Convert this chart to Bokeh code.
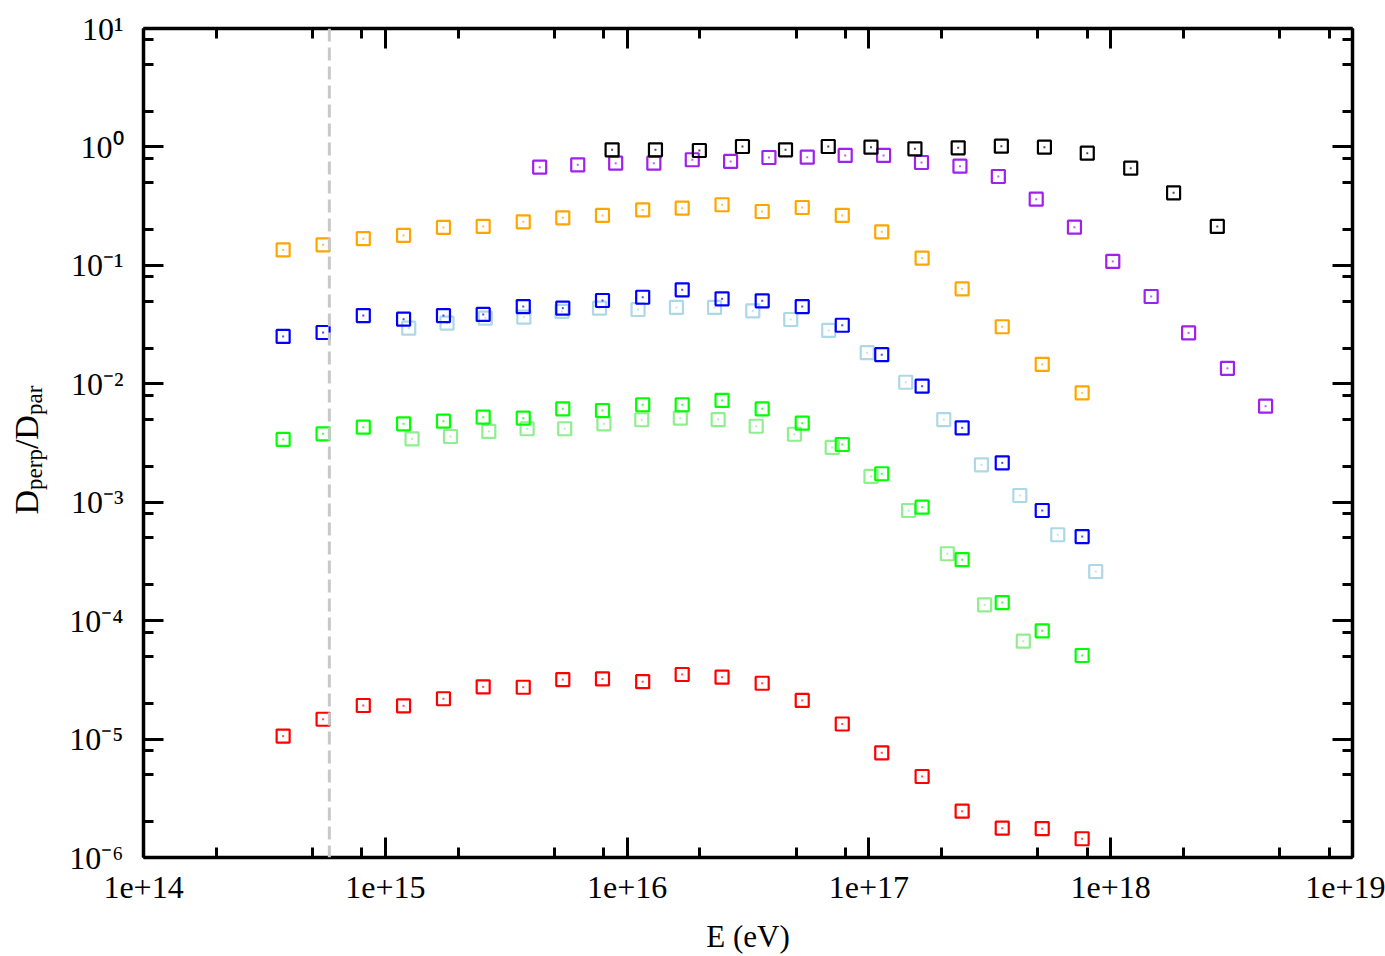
import numpy as np
from bokeh.plotting import figure
from bokeh.layouts import row
from bokeh.models import FixedTicker, LogAxis, CustomJSTickFormatter, Span, Range1d
from bokeh.core.properties import value
from bokeh.embed import file_html
from bokeh.resources import INLINE

# ---------------- data ----------------
E_main = [3.78e14, 5.53e14, 8.11e14, 1.19e15, 1.74e15, 2.54e15, 3.72e15, 5.42e15,
          7.91e15, 1.16e16, 1.69e16, 2.47e16, 3.62e16, 5.30e16, 7.76e16, 1.13e17,
          1.66e17, 2.43e17, 3.56e17, 5.21e17, 7.62e17]
red = [1.06e-5, 1.47e-5, 1.92e-5, 1.91e-5, 2.19e-5, 2.76e-5, 2.74e-5, 3.18e-5,
       3.22e-5, 3.05e-5, 3.51e-5, 3.33e-5, 2.96e-5, 2.12e-5, 1.34e-5, 7.66e-6,
       4.83e-6, 2.46e-6, 1.77e-6, 1.75e-6, 1.44e-6]
orange = [0.135, 0.149, 0.168, 0.179, 0.209, 0.213, 0.233, 0.252, 0.264, 0.294, 0.304,
          0.325, 0.285, 0.308, 0.264, 0.192, 0.115, 0.0634, 0.0303, 0.0146, 0.00839]
blue = [0.0251, 0.0271, 0.0377, 0.0351, 0.0377, 0.0385, 0.0449, 0.0435, 0.0505, 0.0538,
        0.0622, 0.0522, 0.0502, 0.0449, 0.0312, 0.0176, 0.00954, 0.00425, 0.00215,
        0.000851, 0.000513]
green = [0.00339, 0.00378, 0.00430, 0.00459, 0.00483, 0.00522, 0.00512, 0.00615, 0.00595,
         0.00665, 0.00665, 0.00723, 0.00615, 0.00465, 0.00307, 0.00174, 0.000908,
         0.000327, 0.000142, 8.21e-5, 5.08e-5]

E_lightblue = [1.25e15, 1.80e15, 2.59e15, 3.74e15, 5.38e15, 7.69e15, 1.11e16, 1.60e16,
               2.30e16, 3.31e16, 4.75e16, 6.82e16, 9.84e16, 1.42e17, 2.04e17, 2.92e17,
               4.21e17, 6.04e17, 8.67e17]
lightblue = [0.0295, 0.0325, 0.0358, 0.0365, 0.0408, 0.0435, 0.0424, 0.0441, 0.0441,
             0.0413, 0.0349, 0.0282, 0.0183, 0.0103, 0.00499, 0.00207, 0.00114,
             0.000531, 0.000260]

E_lightgreen = [1.29e15, 1.86e15, 2.68e15, 3.86e15, 5.52e15, 8.02e15, 1.15e16, 1.66e16,
                2.38e16, 3.42e16, 4.92e16, 7.05e16, 1.02e17, 1.46e17, 2.11e17, 3.01e17,
                4.35e17]
lightgreen = [0.00343, 0.00359, 0.00396, 0.00417, 0.00417, 0.00459, 0.00497, 0.00512,
              0.00499, 0.00438, 0.00375, 0.00290, 0.00165, 0.000851, 0.000367,
              0.000136, 6.71e-5]

E_purple = [4.35e15, 6.25e15, 8.97e15, 1.29e16, 1.86e16, 2.68e16, 3.86e16, 5.56e16,
            7.98e16, 1.15e17, 1.65e17, 2.38e17, 3.43e17, 4.92e17, 7.08e17, 1.02e18,
            1.47e18, 2.10e18, 3.04e18, 4.37e18]
purple = [0.674, 0.706, 0.729, 0.729, 0.779, 0.754, 0.814, 0.819, 0.847, 0.847, 0.739,
          0.688, 0.563, 0.362, 0.210, 0.108, 0.0546, 0.0269, 0.0135, 0.00647]

E_black = [8.67e15, 1.31e16, 1.99e16, 3.00e16, 4.52e16, 6.79e16, 1.02e17, 1.55e17,
           2.34e17, 3.53e17, 5.32e17, 8.00e17, 1.21e18, 1.82e18, 2.76e18]
black = [0.946, 0.946, 0.933, 1.008, 0.946, 1.008, 0.995, 0.964, 0.983, 1.014, 0.995,
         0.885, 0.661, 0.410, 0.213]

E_threshold = 5.87e14

x_decades = [14, 15, 16, 17, 18, 19]
y_decades = [-6, -5, -4, -3, -2, -1, 0, 1]
minor_mult = [2, 5, 8]

# y-axis title pieces: D_perp / D_par
ylabel_parts = ["D", "perp", "/D", "par"]
ylabel_is_sub = [False, True, False, True]

# ---------------- layout constants ----------------
W, H = 1385, 956
LW = 60                      # width of the strip holding the y title
L, R, T, B = 143, 33, 28, 99  # frame borders measured on the full page
FONT = "Liberation Serif"

# ---------------- main figure ----------------
p = figure(width=W - LW, height=H, x_axis_type="log", y_axis_type="log",
           x_range=(1e14, 1e19), y_range=(1e-6, 1e1),
           output_backend="svg", toolbar_location=None,
           min_border_left=L - LW, min_border_right=R, min_border_top=T,
           min_border_bottom=B)
p.xgrid.visible = False
p.ygrid.visible = False
p.outline_line_color = None
p.background_fill_color = "white"
p.border_fill_color = "white"

x_ticks = [10.0 ** d for d in x_decades]
x_minor = [m * 10.0 ** d for d in x_decades[:-1] for m in minor_mult]
y_ticks = [10.0 ** d for d in y_decades]
y_minor = [m * 10.0 ** d for d in y_decades[:-1] for m in minor_mult]

x_fmt = CustomJSTickFormatter(code="return '1e+' + Math.round(Math.log10(tick));")
y_fmt = CustomJSTickFormatter(code="""
const sup = {'-':'\u207b','0':'\u2070','1':'\u00b9','2':'\u00b2','3':'\u00b3','4':'\u2074',
             '5':'\u2075','6':'\u2076','7':'\u2077','8':'\u2078','9':'\u2079'};
const e = String(Math.round(Math.log10(tick)));
return '10' + e.split('').map(c => sup[c]).join('');
""")


def style_axis(ax, ticks, minor, show_labels, fmt=None, size="30px", standoff=14):
    ax.ticker = FixedTicker(ticks=ticks, minor_ticks=minor)
    ax.axis_line_width = 3.5
    ax.axis_line_color = "black"
    ax.major_tick_line_width = 3
    ax.minor_tick_line_width = 3
    ax.major_tick_line_color = "black"
    ax.minor_tick_line_color = "black"
    ax.major_tick_in = 20
    ax.major_tick_out = 0
    ax.minor_tick_in = 10
    ax.minor_tick_out = 0
    if show_labels:
        ax.formatter = fmt
        ax.major_label_text_font = FONT
        ax.major_label_text_font_size = size
        ax.major_label_text_color = "black"
        ax.major_label_standoff = standoff
    else:
        ax.major_label_text_font_size = "1px"
        ax.major_label_text_color = None
        ax.major_label_standoff = 0


style_axis(p.xaxis[0], x_ticks, x_minor, True, x_fmt, "32px", 19)
style_axis(p.yaxis[0], y_ticks, y_minor, True, y_fmt, "32px", 20)
p.xaxis[0].axis_label = "E (eV)"
p.xaxis[0].axis_label_text_font = FONT
p.xaxis[0].axis_label_text_font_size = "31px"
p.xaxis[0].axis_label_text_font_style = "normal"
p.xaxis[0].axis_label_text_color = "black"
p.xaxis[0].axis_label_standoff = 18

top = LogAxis()
style_axis(top, x_ticks, x_minor, False)
p.add_layout(top, "above")
right = LogAxis()
style_axis(right, y_ticks, y_minor, False)
p.add_layout(right, "right")

# dashed vertical reference line
p.add_layout(Span(location=E_threshold, dimension="height", line_color="#c8c8c8",
                  line_width=3, line_dash="13 6"))

series = [
    (E_lightblue, lightblue, "#add8e6"),
    (E_lightgreen, lightgreen, "#90ee90"),
    (E_main, red, "#ff0000"),
    (E_main, orange, "#ffa500"),
    (E_main, blue, "#0000ff"),
    (E_main, green, "#00ff00"),
    (E_purple, purple, "#a020f0"),
    (E_black, black, "#000000"),
]
for xs, ys, c in series:
    p.scatter(xs, ys, marker="square", size=13, fill_color=None, line_color=c,
              line_width=2.2)
    p.scatter(xs, ys, marker="square", size=2, fill_color=c, line_color=None,
              fill_alpha=0.7)

# ---------------- strip with the rotated y title ----------------
# its frame is aligned with the main frame (page y 28..857), so map page y directly
lab = figure(width=LW, height=H, x_range=Range1d(0, LW), y_range=Range1d(H - 857, H - 28),
             output_backend="svg", toolbar_location=None,
             x_axis_location=None, y_axis_location=None,
             min_border=0, min_border_left=0, min_border_right=0,
             min_border_top=0, min_border_bottom=0)
lab.xgrid.visible = False
lab.ygrid.visible = False
lab.outline_line_color = None
lab.border_fill_color = "white"
lab.background_fill_color = "white"

main_fs, sub_fs = 34, 23
base_main, base_sub = 26, 34
adv = {"D": 0.722, "p": 0.5, "e": 0.444, "r": 0.333, "a": 0.444, "/": 0.278}
pos = 514.0  # page y where the title starts (reads upward)
for txt, is_sub in zip(ylabel_parts, ylabel_is_sub):
    fs = sub_fs if is_sub else main_fs
    bx = base_sub if is_sub else base_main
    lab.text(x=[bx], y=[H - pos], text=[txt], angle=np.pi / 2,
             text_font=value(FONT), text_font_size=value(f"{fs}px"),
             text_align="left", text_baseline="alphabetic", text_color="black")
    pos -= sum(adv[ch] for ch in txt) * fs

open("out.html", "w").write(file_html(row(lab, p), INLINE))
